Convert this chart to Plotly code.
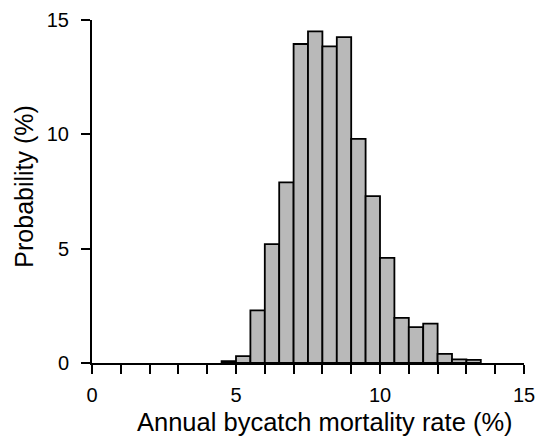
import plotly.graph_objects as go

bin_left = [4.5, 5.0, 5.5, 6.0, 6.5, 7.0, 7.5, 8.0, 8.5, 9.0, 9.5, 10.0, 10.5, 11.0, 11.5, 12.0, 12.5, 13.0]
probability = [0.08, 0.3, 2.3, 5.2, 7.9, 13.95, 14.5, 13.85, 14.25, 9.8, 7.3, 4.6, 1.97, 1.57, 1.72, 0.4, 0.16, 0.14]
bin_width = 0.5
x_tick_vals = list(range(0, 16))
x_tick_text = [str(v) if v % 5 == 0 else "" for v in x_tick_vals]
y_tick_vals = [0, 5, 10, 15]
x_title = "Annual bycatch mortality rate (%)"
y_title = "Probability (%)"

centers = [b + bin_width / 2 for b in bin_left]

fig = go.Figure(go.Bar(
    x=centers, y=probability, width=bin_width,
    marker=dict(color="#b9b9b9", line=dict(color="black", width=1.8)),
))

font = "Liberation Sans, Arial, Helvetica, sans-serif"
fig.update_layout(
    width=541, height=438,
    margin=dict(l=92, r=17, t=20, b=75),
    plot_bgcolor="white", paper_bgcolor="white",
    showlegend=False,
    font=dict(family=font, color="black"),
    annotations=[
        dict(text=x_title, xref="paper", yref="paper", x=0.539, y=-0.172,
             xanchor="center", yanchor="middle", showarrow=False,
             font=dict(size=25.5)),
        dict(text=y_title, xref="paper", yref="paper", x=-0.157, y=0.5146,
             xanchor="center", yanchor="middle", showarrow=False, textangle=-90,
             font=dict(size=25)),
    ],
)
fig.update_xaxes(
    range=[0, 15], tickvals=x_tick_vals, ticktext=x_tick_text,
    ticks="outside", ticklen=9, tickwidth=2, tickcolor="black",
    showline=True, linecolor="black", linewidth=2,
    showgrid=False, zeroline=False, automargin=False,
    tickfont=dict(size=20), ticklabelstandoff=4,
)
fig.update_yaxes(
    range=[0, 15], tickvals=y_tick_vals,
    ticks="outside", ticklen=9, tickwidth=2, tickcolor="black",
    showline=True, linecolor="black", linewidth=2,
    showgrid=False, zeroline=False, automargin=False,
    tickfont=dict(size=20), ticklabelstandoff=8,
)

fig.write_html("out.html", config={"displayModeBar": False},
               post_script="document.body.style.margin='0';")
